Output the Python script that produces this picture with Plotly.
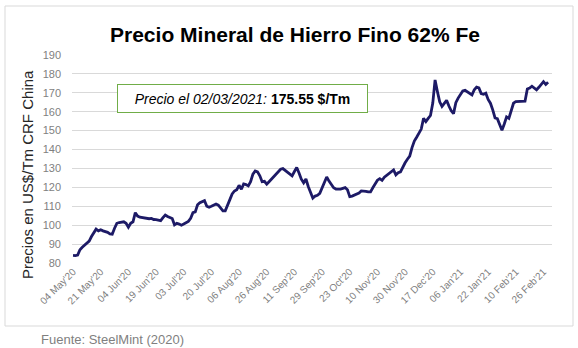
import plotly.graph_objects as go

# Iron ore fines 62% Fe price (US$/t CFR China), trading-day series 04 May'20 .. 02 Mar'21
prices = [
    84.0, 83.9, 84.2, 87.0, 88.3, 89.5, 90.8, 91.6, 94.0, 96.2,
    97.9, 97.0, 97.6, 97.0, 96.8, 96.2, 95.4, 95.2, 98.4, 101.0,
    101.4, 101.6, 101.8, 101.0, 98.9, 101.0, 101.8, 106.6, 104.8, 104.2,
    104.0, 103.8, 103.2, 103.4, 103.6, 103.0, 102.9, 102.7, 102.4, 104.0,
    105.4, 104.6, 103.9, 103.5, 100.2, 101.0, 100.6, 100.0, 100.6, 101.3,
    102.0, 103.6, 106.6, 107.0, 110.8, 111.9, 112.4, 113.0, 110.0, 109.5,
    110.0, 110.6, 111.2, 110.6, 109.2, 107.6, 107.6, 111.1, 113.5, 116.5,
    118.1, 118.8, 121.1, 119.0, 121.8, 121.5, 120.8, 123.0, 127.0, 128.7,
    128.2, 126.1, 123.0, 123.2, 121.7, 123.0, 124.4, 125.5, 126.7, 128.5,
    129.6, 129.9, 129.0, 128.2, 126.9, 126.1, 128.4, 130.5, 127.6, 124.3,
    122.4, 124.4, 120.5, 117.5, 114.3, 115.4, 115.8, 116.8, 119.6, 122.8,
    125.5, 123.3, 121.3, 119.8, 119.1, 119.0, 119.1, 119.5, 119.9, 118.7,
    115.1, 115.4, 115.8, 116.4, 117.0, 118.1, 118.1, 117.9, 117.6, 117.6,
    119.8, 122.2, 123.8, 124.6, 123.7, 125.4, 126.4, 127.4, 128.7, 129.2,
    126.6, 127.7, 128.2, 130.8, 133.0, 134.9, 136.5, 141.0, 144.5, 146.5,
    148.7, 150.8, 156.5, 154.8, 156.5, 158.0, 164.6, 176.8, 170.7, 165.2,
    162.8, 164.5, 166.0, 163.0, 160.5, 159.0, 164.8, 167.2, 169.2, 171.0,
    171.3, 170.5, 170.0, 168.9, 171.6, 173.0, 172.6, 169.6, 169.2, 169.8,
    166.5, 164.5, 161.0, 156.7, 156.3, 153.2, 150.2, 153.5, 157.3, 156.5,
    161.0, 164.5, 165.4, 165.4, 165.4, 165.4, 165.6, 172.0, 172.5, 173.5,
    172.4, 171.6, 172.9, 174.2, 175.9, 174.4, 175.55,
]

tick_labels = [
    "04 May'20", "21 May'20", "04 Jun'20", "19 Jun'20", "03 Jul'20", "20 Jul'20",
    "06 Aug'20", "26 Aug'20", "11 Sep'20", "29 Sep'20", "23 Oct'20", "10 Nov'20",
    "30 Nov'20", "17 Dec'20", "06 Jan'21", "22 Jan'21", "10 Feb'21", "26 Feb'21",
]
tick_step = 12
y_ticks = list(range(80, 191, 10))

title_text = "Precio Mineral de Hierro Fino 62% Fe"
y_title = "Precios en US$/Tm CRF China"
box_text = "<i>Precio el 02/03/2021:</i> <b>175.55 $/Tm</b>"
source_text = "Fuente: SteelMint (2020)"

idx = list(range(len(prices)))
tick_pos = [i * tick_step for i in range(len(tick_labels))]

fig = go.Figure()
fig.add_trace(go.Scatter(
    x=idx, y=prices, mode="lines",
    line=dict(color="#1d1a66", width=2.8),
    hoverinfo="y", showlegend=False,
))

L, R, T, B = 72, 26, 55, 85
W, H = 578, 348
pw, ph = W - L - R, H - T - B


def px(x):
    return (x - L) / pw


def py(y):
    return (H - B - y) / ph


fig.update_layout(
    width=W, height=H,
    margin=dict(l=L, r=R, t=T, b=B),
    paper_bgcolor="white", plot_bgcolor="white",
    font=dict(family="Liberation Sans, Arial, sans-serif", color="#595959"),
    title=dict(text="<b>" + title_text + "</b>", x=px(295), xref="paper", xanchor="center",
               y=1 - 35 / H, yanchor="middle",
               font=dict(size=21, color="black", family="Liberation Sans, Arial, sans-serif")),
    xaxis=dict(
        range=[-0.45, len(prices) + 0.7],
        tickmode="array", tickvals=tick_pos, ticktext=tick_labels,
        tickangle=-45, tickfont=dict(size=10, color="#7f7f7f"),
        showgrid=False, zeroline=False, showline=False, ticks="",
    ),
    yaxis=dict(
        range=[80, 190], tickmode="array", tickvals=y_ticks,
        tickfont=dict(size=11, color="#7f7f7f"),
        showgrid=True, gridcolor="#d9d9d9", gridwidth=1,
        zeroline=False, showline=False, ticks="",
        ticklabelstandoff=10,
    ),
    shapes=[dict(
        type="rect", xref="paper", yref="paper",
        x0=px(5), x1=px(573), y0=py(326), y1=py(6),
        line=dict(color="#d9d9d9", width=1), fillcolor="rgba(0,0,0,0)", layer="below",
    )],
    annotations=[
        dict(text=y_title, xref="paper", yref="paper", x=px(27), y=py(175),
             xanchor="center", yanchor="middle", showarrow=False, textangle=-90,
             font=dict(size=15, color="#262626")),
        dict(text=box_text, xref="paper", yref="paper", x=px(242.5), y=py(98),
             xanchor="center", yanchor="middle", showarrow=False,
             width=239, height=17,
             font=dict(size=14, color="black"),
             bgcolor="white", bordercolor="#70ad47", borderwidth=1, borderpad=5),
        dict(text=source_text, xref="paper", yref="paper", x=px(39), y=py(339),
             xanchor="left", yanchor="middle", showarrow=False,
             font=dict(size=13, color="#7f7f7f")),
    ],
)

fig.write_html("out.html")
